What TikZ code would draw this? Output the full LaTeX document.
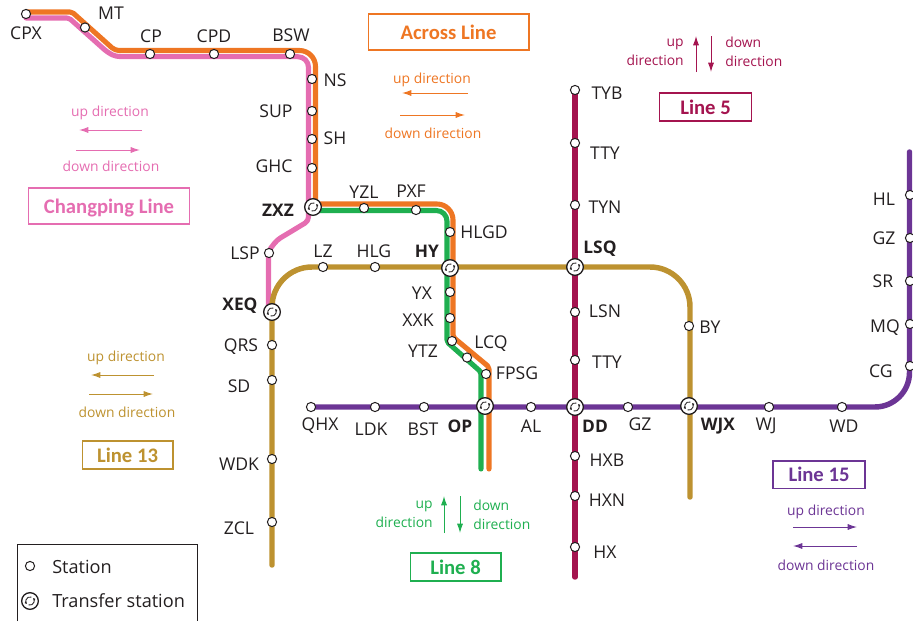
\documentclass[tikz,border=0pt]{standalone}
\usepackage{fontspec}
\setmainfont{Open Sans}
\newfontfamily\boxfont{Carlito}
\usetikzlibrary{arrows.meta,backgrounds}

\definecolor{acrosscol}{HTML}{EE7623}
\definecolor{changcol}{HTML}{E56DB1}
\definecolor{eightcol}{HTML}{1FAF50}
\definecolor{thirteencol}{HTML}{BD9230}
\definecolor{fivecol}{HTML}{A4144F}
\definecolor{fifteencol}{HTML}{6C3595}
\definecolor{labelcol}{HTML}{231F20}

\tikzset{
  station/.style={draw=labelcol, circle, fill=white, inner sep=0pt, minimum size=6.9pt, line width=0.75pt},
  transfer/.style={draw=labelcol, circle, fill=white, inner sep=0pt, minimum size=12.5pt, line width=1pt,
    path picture={
      \draw[line width=0.65pt, -{Latex[length=1.8pt,width=2pt]}] (path picture bounding box.center) ++(70:3.1pt) arc[start angle=70, end angle=225, radius=3.1pt];
      \draw[line width=0.65pt, -{Latex[length=1.8pt,width=2pt]}] (path picture bounding box.center) ++(250:3.1pt) arc[start angle=250, end angle=405, radius=3.1pt];
    }},
  stationname/.style={text=labelcol, inner sep=0pt, font=\fontsize{13.2pt}{15pt}\selectfont},
  transfername/.style={stationname, font=\fontsize{13pt}{15pt}\selectfont\bfseries},
  dirtext/.style={inner sep=0pt, font=\fontsize{10.4pt}{14pt}\selectfont},
  linebox/.style={draw, line width=1pt, inner sep=0pt, text depth=0pt, font=\boxfont\fontsize{15.5pt}{17pt}\selectfont\bfseries},
  dirarrow/.style={line width=0.75pt, -{Latex[length=7pt,width=4.6pt]}},
  metroline/.style={line width=3.8pt, line cap=round, line join=round},
  singleline/.style={metroline, line width=4.1pt},
}

\begin{document}
\begin{tikzpicture}[x=0.75pt,y=-0.75pt]
      \useasboundingbox (0,0) rectangle (913,621);

      % Draw the ordinary stations
      \foreach \n/\x/\y in {CPX/26/14, MT/85/27.5, CP/150/54, CPD/214/54, BSW/290/54,
          NS/312/79, SUP/312/111, SH/312/139, GHC/312/168, YZL/364/208, PXF/416/210,
          HLGD/450/232, LZ/323/267, HLG/375/267, LSP/269/253, QRS/272/345, SD/272/380,
          WDK/272/459, ZCL/272/522, YX/450/292, XXK/450/318, YTZ/452/341, LCQ/467/357.5,
          FPSG/486/374, QHX/311/407, LDK/375/407, BST/424/407, AL/531/407, GZa/628/407,
          WJ/769/407, WD/842/407, BY/689/326, TYB/575/90, TTYa/575/143, TYN/575/205,
          LSN/575/312, TTYb/575/360, HXB/575/456, HXN/575/496, HX/575/547,
          HL/910/195, GZb/910/238, SR/910/281, MQ/910/324, CG/910/366}
        \node[station] (\n) at (\x,\y) {};

      % Draw the transfer stations
      \foreach \n/\x/\y in {ZXZ/313/207, HY/450/268, XEQ/272/312, OP/485/406, LSQ/575/267,
          DD/575/407, WJX/689/406}
        \node[transfer] (\n) at (\x,\y) {};

      % Station names
      \foreach \n/\t/\x/\y in {CPX/CPX/26/33, MT/MT/111/13, CP/CP/151/36, CPD/CPD/214/36,
          BSW/BSW/291/35, NS/NS/335/80, SUP/SUP/276/111, SH/SH/335/138, GHC/GHC/274/166,
          YZL/YZL/364/192, PXF/PXF/411/191, HLGD/HLGD/484/232, LZ/LZ/323/251, HLG/HLG/374/251,
          LSP/LSP/245/253, QRS/QRS/241/347, SD/SD/239/386, WDK/WDK/239/464, ZCL/ZCL/239/528,
          YX/YX/422/293, XXK/XXK/418/320, YTZ/YTZ/423/351, LCQ/LCQ/491/344, FPSG/FPSG/517/373,
          QHX/QHX/320/426, LDK/LDK/371/429, BST/BST/423/429, AL/AL/531/426, GZa/GZ/640/424,
          WJ/WJ/766/426, WD/WD/844/426, BY/BY/710/327, TYB/TYB/607/93, TTYa/TTY/605/153,
          TYN/TYN/605/207, LSN/LSN/605/311, TTYb/TTY/607/362, HXB/HXB/607/460, HXN/HXN/607/500,
          HX/HX/605/552, HL/HL/884/199, GZb/GZ/884/238, SR/SR/883/281, MQ/MQ/885/328, CG/CG/881/371}
        \node[stationname] (\n-name) at (\x,\y) {\t};
      \foreach \n/\x/\y in {ZXZ/278/210, HY/427/251, XEQ/240/306, OP/460/426, LSQ/600/249,
          DD/595/426, WJX/718/426}
        \node[transfername] (\n-name) at (\x,\y) {\n};

      % Bends of the lines
      \coordinate (a0) at (26,12);
      \coordinate (a1) at (72,12);
      \coordinate (a2) at (115,50.5);
      \coordinate (a3) at (315.5,50.5);
      \coordinate (a4) at (315.5,204);
      \coordinate (a5) at (453,204);
      \coordinate (a6) at (453,337);
      \coordinate (a7) at (489,367);
      \coordinate (a8) at (489,469);
      \coordinate (b0) at (26,18);
      \coordinate (b1) at (69,18);
      \coordinate (b2) at (106,51);
      \coordinate (b3) at (115,56.7);
      \coordinate (b4) at (135,56.7);
      \coordinate (b5) at (308.5,56.7);
      \coordinate (b6) at (308.5,221);
      \coordinate (b7) at (277,240);
      \coordinate (b8) at (268.5,251);
      \coordinate (b9) at (268.5,310);
      \coordinate (c0) at (313,210.5);
      \coordinate (c1) at (447,210.5);
      \coordinate (c2) at (447,342);
      \coordinate (c3) at (481,372);
      \coordinate (c4) at (481,469);
      \coordinate (d0) at (272,267);
      \coordinate (d1) at (690,267);
      \coordinate (d2) at (690,497);
      \coordinate (d3) at (272,565);
      \coordinate (e0) at (575,577);
      \coordinate (f0) at (909.5,407);
      \coordinate (f1) at (909.5,152);

      % Draw the lines behind the stations
      \begin{scope}[on background layer]
        \draw[singleline, fifteencol] (QHX.center) -- (WD.center) [rounded corners=26pt] -- (f0) [sharp corners] -- (f1);
        \draw[singleline, fivecol] (TYB.center) -- (e0);
        \draw[metroline, changcol] (b0) [rounded corners=1.5pt] -- (b1) -- (b2) .. controls (b3) .. (b4) [rounded corners=8pt] -- (b5) [rounded corners=3pt] -- (b6) -- (b7) -- (b8) -- (b9);
        \draw[metroline, eightcol] (c0) [rounded corners=8pt] -- (c1) [rounded corners=1.5pt] -- (c2) -- (c3) -- (c4);
        \draw[metroline, acrosscol] (a0) [rounded corners=1.5pt] -- (a1) [rounded corners=3pt] -- (a2) [rounded corners=12pt] -- (a3) [sharp corners] -- (a4) [rounded corners=12pt] -- (a5) [rounded corners=1.5pt] -- (a6) -- (a7) -- (a8);
        \draw[singleline, thirteencol] (d3) -- (XEQ.center) [rounded corners=30pt] -- (d0) -- (d1) -- (d2);
      \end{scope}

      % Changping Line key
      \node[dirtext, changcol] (chup) at (110,113) {up direction};
      \coordinate (chupa) at (142,130);
      \coordinate (chupb) at (79,130);
      \draw[dirarrow, changcol] (chupa) -- (chupb);
      \coordinate (chdna) at (76,150);
      \coordinate (chdnb) at (140,150);
      \draw[dirarrow, changcol] (chdna) -- (chdnb);
      \node[dirtext, changcol] (chdn) at (111,166) {down direction};
      \node[linebox, changcol, minimum width=121pt, minimum height=27pt] (chbox) at (109,206) {Changping Line};

      % Across Line key
      \node[linebox, acrosscol, minimum width=120.5pt, minimum height=27pt] (acbox) at (448.5,32) {Across Line};
      \node[dirtext, acrosscol] (acup) at (432,80) {up direction};
      \coordinate (acupa) at (468,93);
      \coordinate (acupb) at (402,93);
      \draw[dirarrow, acrosscol] (acupa) -- (acupb);
      \coordinate (acdna) at (400,115);
      \coordinate (acdnb) at (465,115);
      \draw[dirarrow, acrosscol] (acdna) -- (acdnb);
      \node[dirtext, acrosscol] (acdn) at (433,133) {down direction};

      % Line 5 key
      \node[linebox, fivecol, minimum width=69pt, minimum height=21pt] (l5box) at (705.5,107) {Line 5};
      \node[dirtext, fivecol, align=right, anchor=east] (l5up) at (684,52) {up\\direction};
      \node[dirtext, fivecol, align=left, anchor=west] (l5dn) at (725,52) {down\\direction};
      \coordinate (l5upa) at (696,72);
      \coordinate (l5upb) at (696,36);
      \draw[dirarrow, fivecol] (l5upa) -- (l5upb);
      \coordinate (l5dna) at (711,36);
      \coordinate (l5dnb) at (711,72);
      \draw[dirarrow, fivecol] (l5dna) -- (l5dnb);

      % Line 8 key
      \node[linebox, eightcol, minimum width=68pt, minimum height=21pt] (l8box) at (455.5,567) {Line 8};
      \node[dirtext, eightcol, align=right, anchor=east] (l8up) at (433,514.5) {up\\direction};
      \node[dirtext, eightcol, align=left, anchor=west] (l8dn) at (473,514.5) {down\\direction};
      \coordinate (l8upa) at (444,533);
      \coordinate (l8upb) at (444,496);
      \draw[dirarrow, eightcol] (l8upa) -- (l8upb);
      \coordinate (l8dna) at (460,496);
      \coordinate (l8dnb) at (460,533);
      \draw[dirarrow, eightcol] (l8dna) -- (l8dnb);

      % Line 13 key
      \node[dirtext, thirteencol] (l13up) at (126,358) {up direction};
      \coordinate (l13upa) at (154,375);
      \coordinate (l13upb) at (91,375);
      \draw[dirarrow, thirteencol] (l13upa) -- (l13upb);
      \coordinate (l13dna) at (89,394);
      \coordinate (l13dnb) at (153,394);
      \draw[dirarrow, thirteencol] (l13dna) -- (l13dnb);
      \node[dirtext, thirteencol] (l13dn) at (127,412) {down direction};
      \node[linebox, thirteencol, minimum width=68pt, minimum height=21pt] (l13box) at (127.5,455) {Line 13};

      % Line 15 key
      \node[linebox, fifteencol, minimum width=69pt, minimum height=20.5pt] (l15box) at (819,474.5) {Line 15};
      \node[dirtext, fifteencol] (l15up) at (826,512) {up direction};
      \coordinate (l15upa) at (793,527);
      \coordinate (l15upb) at (857,527);
      \draw[dirarrow, fifteencol] (l15upa) -- (l15upb);
      \coordinate (l15dna) at (857,546);
      \coordinate (l15dnb) at (793,546);
      \draw[dirarrow, fifteencol] (l15dna) -- (l15dnb);
      \node[dirtext, fifteencol] (l15dn) at (826,565) {down direction};

      % Legend
      \coordinate (lega) at (17.5,621);
      \coordinate (legb) at (17.5,544);
      \coordinate (legc) at (197,544);
      \coordinate (legd) at (197,621);
      \draw[line width=0.75pt, labelcol] (lega) -- (legb) -- (legc) -- (legd);
      \node[station] (legstation) at (30,566) {};
      \node[transfer] (legtransfer) at (30,601) {};
      \node[stationname, anchor=west, font=\fontsize{13.6pt}{15pt}\selectfont] (legstationname) at (52,567) {Station};
      \node[stationname, anchor=west, font=\fontsize{13.6pt}{15pt}\selectfont] (legtransfername) at (52,601) {Transfer station};
    \end{tikzpicture}
\end{document}
